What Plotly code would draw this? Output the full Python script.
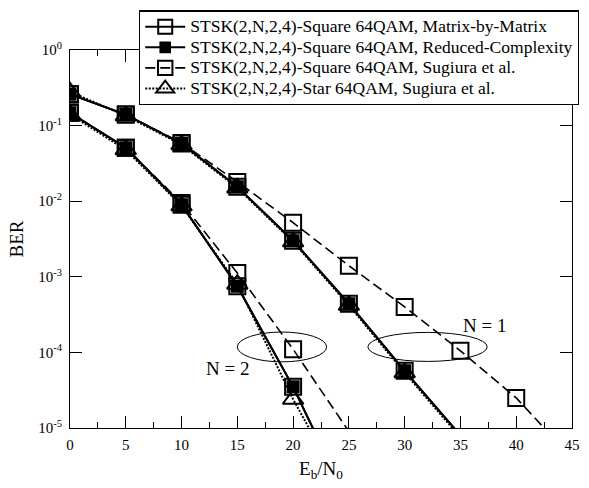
import math
import plotly.graph_objects as go

# ---------------- data ----------------
ebn0_n1 = [0, 5, 10, 15, 20, 25, 30, 35]
ebn0_n1_sug = [0, 5, 10, 15, 20, 25, 30, 35, 40, 45]
ebn0_n2 = [0, 5, 10, 15, 20, 25]

matrix_n1 = [0.26, 0.14, 0.058, 0.0155, 3.0e-3, 4.4e-4, 5.7e-5, 8.0e-6]
reduced_n1 = [0.26, 0.14, 0.058, 0.0155, 3.0e-3, 4.4e-4, 5.7e-5, 8.0e-6]
sugsq_n1 = [0.26, 0.14, 0.059, 0.018, 5.2e-3, 1.4e-3, 4.0e-4, 1.05e-4, 2.5e-5, 4.0e-6]
star_n1 = [0.28, 0.135, 0.056, 0.0150, 2.9e-3, 4.2e-4, 5.4e-5, 7.5e-6]

matrix_n2 = [0.148, 0.051, 0.0090, 7.5e-4, 3.5e-5, 1.0e-6]
reduced_n2 = [0.148, 0.051, 0.0090, 7.5e-4, 3.5e-5, 1.0e-6]
sugsq_n2 = [0.148, 0.051, 0.0095, 1.12e-3, 1.1e-4, 9.0e-6]
star_n2 = [0.14, 0.048, 0.0087, 8.0e-4, 2.4e-5, 1.1e-6]

names = [
    "STSK(2,N,2,4)-Square 64QAM, Matrix-by-Matrix",
    "STSK(2,N,2,4)-Square 64QAM, Reduced-Complexity",
    "STSK(2,N,2,4)-Square 64QAM, Sugiura et al.",
    "STSK(2,N,2,4)-Star 64QAM, Sugiura et al.",
]

y_tickvals = [1, 0.1, 0.01, 1e-3, 1e-4, 1e-5]
y_ticktext = ["10<sup>0</sup>", "10<sup>-1</sup>", "10<sup>-2</sup>",
              "10<sup>-3</sup>", "10<sup>-4</sup>", "10<sup>-5</sup>"]
x_tickvals = [0, 5, 10, 15, 20, 25, 30, 35, 40, 45]

YMIN = 1e-5
FONT = "Liberation Serif"


def sizes(vals, s):
    return [s if v >= YMIN else 0 for v in vals]


styles = [
    dict(symbol="square-open", size=16, dash="solid", lw=2.0),
    dict(symbol="square", size=11, dash="solid", lw=2.0),
    dict(symbol="square-open", size=16, dash="10px,5px", lw=1.6),
    dict(symbol="triangle-up-open", size=18, dash="2px,1.5px", lw=2.0),
]

series = [
    ((ebn0_n1, matrix_n1), (ebn0_n2, matrix_n2)),
    ((ebn0_n1, reduced_n1), (ebn0_n2, reduced_n2)),
    ((ebn0_n1_sug, sugsq_n1), (ebn0_n2, sugsq_n2)),
    ((ebn0_n1, star_n1), (ebn0_n2, star_n2)),
]

fig = go.Figure()
for name, st, curves in zip(names, styles, series):
    for j, (xs, ys) in enumerate(curves):
        fig.add_trace(go.Scatter(
            x=xs, y=ys, mode="lines+markers",
            name='<span style="font-size:17.5px">' + name + "</span>",
            legendgroup=name, showlegend=(j == 0),
            line=dict(color="black", width=st["lw"], dash=st["dash"]),
            marker=dict(symbol=st["symbol"], size=sizes(ys, st["size"]),
                        color="black", opacity=1,
                        line=dict(color="black", width=2)),
        ))

# ellipses and labels
fig.add_shape(type="circle", xref="x", yref="y", x0=15.0, x1=23.0,
              y0=7.5e-5, y1=1.86e-4, line=dict(color="black", width=1))
fig.add_shape(type="circle", xref="x", yref="y", x0=26.7, x1=37.4,
              y0=7.6e-5, y1=1.84e-4, line=dict(color="black", width=1))
fig.add_annotation(x=14.1, y=math.log10(6.1e-5), text="N = 2", showarrow=False,
                   font=dict(family=FONT, size=19, color="black"))
fig.add_annotation(x=37.2, y=math.log10(2.25e-4), text="N = 1", showarrow=False,
                   font=dict(family=FONT, size=19, color="black"))

axis_common = dict(
    showline=True, linecolor="black", linewidth=1.2, mirror="ticks",
    ticks="inside", ticklen=12, tickwidth=1.2, tickcolor="black",
    showgrid=False, zeroline=False,
    tickfont=dict(family=FONT, size=15, color="black"),
)

fig.update_xaxes(
    range=[0, 45], tickvals=x_tickvals, ticklabelstandoff=3,
    title=dict(text="E<sub>b</sub>/N<sub>0</sub>",
               font=dict(family=FONT, size=19, color="black"), standoff=9),
    minor=dict(dtick=2.5, ticks="inside", ticklen=6, tickwidth=1.2, tickcolor="black"),
    **axis_common,
)
fig.update_yaxes(
    type="log", range=[-5, 0], tickvals=y_tickvals, ticktext=y_ticktext,
    ticklabelstandoff=4,
    title=dict(text="BER", font=dict(family=FONT, size=19, color="black"), standoff=9),
    **axis_common,
)

fig.update_layout(
    width=589, height=488,
    margin=dict(l=70, r=10, t=47, b=60),
    paper_bgcolor="white", plot_bgcolor="white",
    font=dict(family=FONT, size=15, color="black"),
    legend=dict(
        x=0.1375, y=1.105, xanchor="left", yanchor="top",
        bgcolor="white", bordercolor="black", borderwidth=1.2,
        font=dict(family=FONT, size=13.5, color="black"),
        itemwidth=40, tracegroupgap=0,
    ),
)

fig.write_html("out.html", config={"displayModeBar": False},
               post_script="document.body.style.margin='0px';")
